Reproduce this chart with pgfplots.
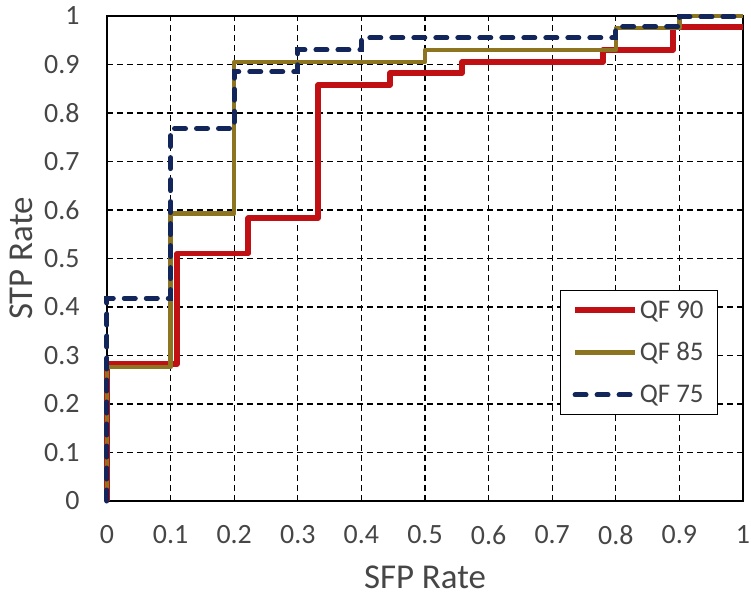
\documentclass[border=0pt]{standalone}
\usepackage{fontspec}
\setmainfont{Carlito}
\usepackage{pgfplots}
\pgfplotsset{compat=1.18}
\definecolor{qfred}{RGB}{192,16,20}
\definecolor{qfolive}{RGB}{140,116,32}
\definecolor{qfblue}{RGB}{18,38,92}
\definecolor{lbl}{RGB}{70,70,70}
\begin{document}
\begin{tikzpicture}
\begin{axis}[
  scale only axis,
  width=636bp, height=485bp,
  xmin=0, xmax=1, ymin=0, ymax=1,
  xtick={0,0.1,...,1}, ytick={0,0.1,...,1},
  xticklabels={0,0.1,0.2,0.3,0.4,0.5,0.6,0.7,0.8,0.9,1},
  yticklabels={0,0.1,0.2,0.3,0.4,0.5,0.6,0.7,0.8,0.9,1},
  major tick length=0pt,
  grid=major,
  major grid style={black, line width=1.1bp, dash pattern=on 6bp off 4bp},
  axis line style={black, line width=1.8bp},
  tick label style={font=\fontsize{28}{32}\selectfont, text=lbl},
  /pgf/number format/assume math mode=true,
  xticklabel style={yshift=-21bp},
  yticklabel style={xshift=-24bp},
  xlabel={SFP Rate}, ylabel={STP Rate},
  label style={font=\fontsize{35}{40}\selectfont, text=lbl},
  xlabel style={yshift=-14bp},
  ylabel style={yshift=5bp},
  clip=false,
  legend style={at={(0.961,0.435)}, anchor=north east, draw=black, line width=1.2bp,
    font=\fontsize{27}{31}\selectfont, text=lbl, inner xsep=12bp, inner ysep=8bp,
    row sep=19bp, cells={anchor=west}},
  legend image code/.code={\draw[#1] (0bp,0bp) -- (60bp,0bp);},
]
\addplot[qfred, line width=5.5bp, line join=round] coordinates {
 (0,0) (0,0.282) (0.11,0.282) (0.11,0.51) (0.222,0.51) (0.222,0.583) (0.332,0.583)
 (0.332,0.858) (0.445,0.858) (0.445,0.882) (0.558,0.882) (0.558,0.905) (0.78,0.905)
 (0.78,0.93) (0.89,0.93) (0.89,0.977) (1,0.977)};
\addlegendentry{QF 90}
\addplot[qfolive, line width=4.5bp, line join=round] coordinates {
 (0,0) (0,0.276) (0.1,0.276) (0.1,0.593) (0.2,0.593) (0.2,0.905) (0.5,0.905)
 (0.5,0.93) (0.8,0.93) (0.8,0.975) (0.9,0.975) (0.9,1) (1,1)};
\addlegendentry{QF 85}
\addplot[qfblue, line width=5bp, line cap=round, dash pattern=on 11bp off 11bp] coordinates {
 (0,0) (0,0.418) (0.1,0.418) (0.1,0.768) (0.2,0.768) (0.2,0.885) (0.3,0.885)
 (0.3,0.93) (0.4,0.93) (0.4,0.955) (0.8,0.955) (0.8,0.978) (0.9,0.978) (0.9,0.998) (1,0.998)};
\addlegendentry{QF 75}
\end{axis}
\pgfresetboundingbox
\path ([shift={(-107bp,-96bp)}]current axis.south west) rectangle ([shift={(8bp,16bp)}]current axis.north east);
\end{tikzpicture}
\end{document}
